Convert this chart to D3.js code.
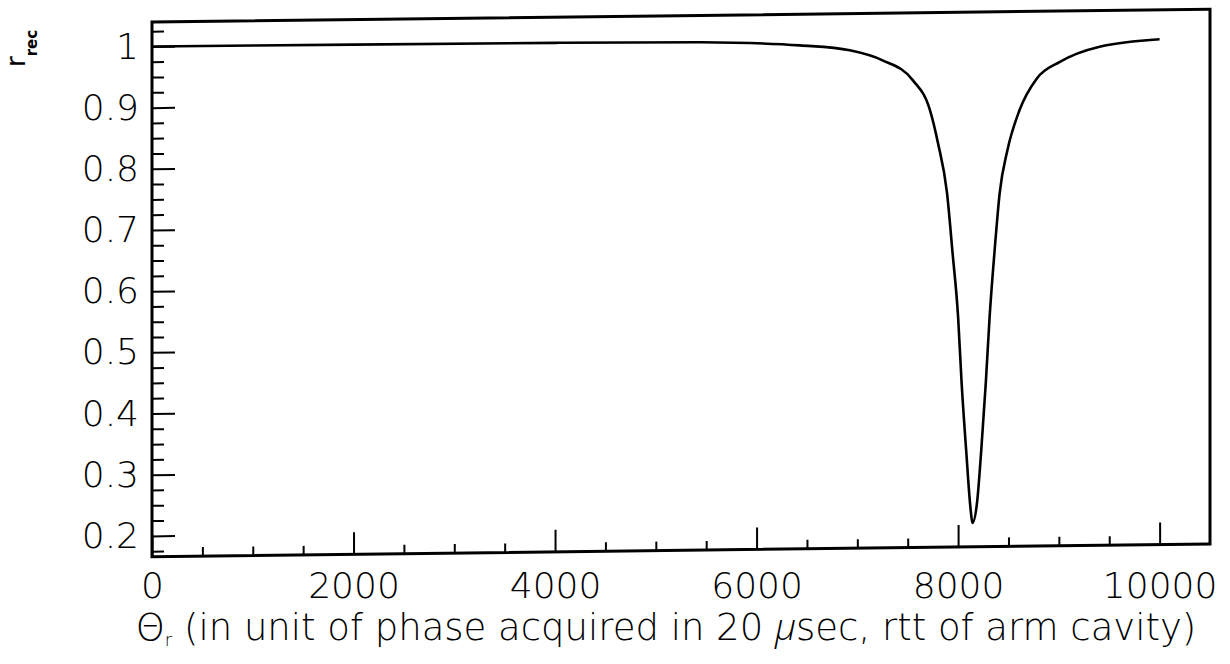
<!DOCTYPE html>
<html>
<head>
<meta charset="utf-8">
<script src="https://cdnjs.cloudflare.com/ajax/libs/d3/7.8.5/d3.min.js"></script>
<style>
  body { margin: 0; background: #fff; }
  svg { display: block; font-family: "DejaVu Sans", sans-serif; font-weight: 200; }
</style>
</head>
<body>
<div id="chart"></div>
<script>
// phase (x) and r_rec (y)
var theta = [0, 2000, 4000, 5440, 6430, 6925, 7250, 7550, 7720, 7800, 7890, 7945, 8000, 8035, 8080, 8125, 8142,
  8188, 8230, 8275, 8313, 8363, 8413, 8490, 8610, 8780, 9010, 9405, 10000];
var rrec = [1.000, 0.999, 0.998, 0.996, 0.989, 0.980, 0.963, 0.930, 0.881, 0.827, 0.745, 0.647, 0.542, 0.434, 0.324, 0.226, 0.205,
  0.238, 0.324, 0.434, 0.542, 0.651, 0.744, 0.814, 0.879, 0.930, 0.957, 0.981, 0.992];

var xTicks = [0, 2000, 4000, 6000, 8000, 10000];
var xTickLabels = ["0", "2000", "4000", "6000", "8000", "10000"];
var yTicks = [0.2, 0.3, 0.4, 0.5, 0.6, 0.7, 0.8, 0.9, 1];
var yTickLabels = ["0.2", "0.3", "0.4", "0.5", "0.6", "0.7", "0.8", "0.9", "1"];

var width = 1230;
var height = 664;

// plot box in pixels
var plotLeft = 152, plotRight = 1210, plotTop = 22, plotBottom = 556.7;

var x = d3.scaleLinear().domain([0, 10500]).range([plotLeft, plotRight]);
var y = d3.scaleLinear().domain([0.166, 1.04]).range([plotBottom, plotTop]);

// minor ticks: every 500 on x, every 0.025 on y
var xMinor = d3.range(1, 21).filter(function(i) { return i % 4 != 0; }).map(function(i) { return i * 500; });
var yMinor = d3.range(7, 42).filter(function(i) { return i % 4 != 0; }).map(function(i) { return i * 0.025; });

var svg = d3.select('#chart')
  .append('svg')
  .attr('width', width)
  .attr('height', height);

// the scan is slightly sheared, so the plot box is too
var plot = svg.append('g')
  .attr('transform', 'translate(' + plotLeft + ',0) skewY(-0.69) translate(' + (-plotLeft) + ',0)');

plot.append('rect')
  .attr('x', plotLeft)
  .attr('y', plotTop)
  .attr('width', plotRight - plotLeft)
  .attr('height', plotBottom - plotTop)
  .attr('fill', 'none')
  .attr('stroke', '#000')
  .attr('stroke-width', 3);

function tickAxis(axis, ty) {
  var g = plot.append('g')
    .attr('transform', ty)
    .call(axis);
  g.select('.domain').remove();
  g.selectAll('line').attr('stroke', '#000').attr('stroke-width', 2);
  g.selectAll('text').remove();
}

tickAxis(d3.axisBottom(x).tickValues(xTicks).tickSize(-22), 'translate(0,' + plotBottom + ')');
tickAxis(d3.axisBottom(x).tickValues(xMinor).tickSize(-9), 'translate(0,' + plotBottom + ')');
tickAxis(d3.axisLeft(y).tickValues(yTicks).tickSize(-23), 'translate(' + plotLeft + ',0)');
tickAxis(d3.axisLeft(y).tickValues(yMinor).tickSize(-12), 'translate(' + plotLeft + ',0)');

var line = d3.line()
  .x(function(d) { return x(d); })
  .y(function(d, i) { return y(rrec[i]); })
  .curve(d3.curveMonotoneX);

plot.append('path')
  .datum(theta)
  .attr('d', line)
  .attr('fill', 'none')
  .attr('stroke', '#000')
  .attr('stroke-width', 2.6)
  .attr('stroke-linejoin', 'round');

// tick labels (not sheared)
var xl = svg.append('g')
  .attr('transform', 'translate(0,' + plotBottom + ')')
  .call(d3.axisBottom(x).tickValues(xTicks).tickSize(0).tickPadding(16)
    .tickFormat(function(d, i) { return xTickLabels[i]; }));
xl.select('.domain').remove();
xl.selectAll('text').attr('font-size', 36).attr('font-family', '"DejaVu Sans", sans-serif').attr('font-weight', 200).attr('fill', '#000');

var yl = svg.append('g')
  .attr('transform', 'translate(' + plotLeft + ',0)')
  .call(d3.axisLeft(y).tickValues(yTicks).tickSize(0).tickPadding(13)
    .tickFormat(function(d, i) { return yTickLabels[i]; }));
yl.select('.domain').remove();
yl.selectAll('text').attr('font-size', 36).attr('font-family', '"DejaVu Sans", sans-serif').attr('font-weight', 200).attr('fill', '#000');

// axis titles
var xt = svg.append('text')
  .attr('x', 666)
  .attr('y', 640)
  .attr('text-anchor', 'middle')
  .attr('font-size', 32)
  .attr('fill', '#000');
xt.append('tspan').text('\u0398');
xt.append('tspan').attr('font-size', 18).attr('dy', 6).text('r');
xt.append('tspan').attr('dy', -6).text(' (in unit of phase acquired in 20 ');
xt.append('tspan').attr('font-family', '"Open Sans", sans-serif').attr('font-style', 'italic').attr('font-weight', 300).text('\u03bc');
xt.append('tspan').text('sec, rtt of arm cavity)');

// stretch the title to the width it has in the scan
var w = xt.node().getComputedTextLength();
xt.attr('font-size', 32 * 1062 / w);

var yt = svg.append('text')
  .attr('transform', 'translate(25,67) rotate(-90)')
  .attr('font-weight', 400)
  .attr('fill', '#000');
yt.append('tspan').attr('font-size', 26).text('r');
yt.append('tspan').attr('font-size', 15).attr('font-weight', 700).attr('dy', 12).text('rec');
</script>
</body>
</html>
